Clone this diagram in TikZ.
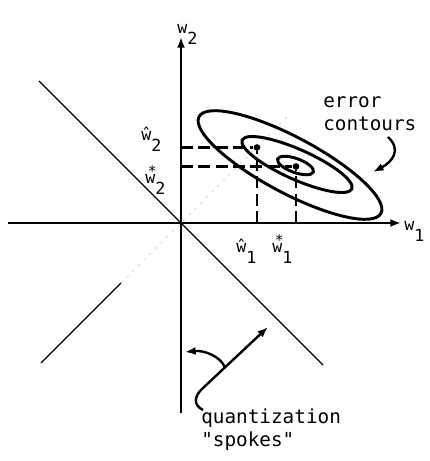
\documentclass[tikz,border=0pt]{standalone}
\usepackage{fontspec}
\newfontfamily\typew{DejaVu Sans Mono}
\usepackage{tikz}
\usetikzlibrary{arrows.meta}

\newcommand{\wsb}[2]{#1\lower8.5pt\hbox{#2}}
\newcommand{\wst}{\rlap{\kern2pt\raisebox{5pt}{\fontsize{11}{11}\selectfont *}}w}

\begin{document}
\begin{tikzpicture}[
    x=0.75pt, y=-0.75pt,
    axis/.style={line width=2.2pt, -{Latex[length=8pt,width=6pt]}},
    contour/.style={line width=2.2pt},
    spoke/.style={line width=0.9pt},
    faint/.style={line width=0.5pt, gray!45, dash pattern=on 2pt off 4pt},
    guide/.style={line width=2pt, dash pattern=on 9pt off 4pt},
    dot/.style={circle, fill, inner sep=0pt, minimum size=5pt},
    lab/.style={font=\typew\fontsize{12.5}{14}\selectfont, inner sep=0pt, anchor=base west},
    note/.style={font=\typew\fontsize{14.5}{17.25}\selectfont, inner sep=0pt,
                 align=left, anchor=north west},
    pointer/.style={line width=1.8pt, -{Latex[length=8pt,width=6pt]}}
]
\useasboundingbox (0,0) rectangle (429,461);
\coordinate (O) at (181,223);

% Quantization spokes
\draw[spoke] (O) ++(-142,-142) coordinate (s1a) -- (O) -- ++(142,142) coordinate (s1b);
\draw[spoke] (O) ++(-140,140) coordinate (s2a) -- ++(80,-80) coordinate (s2m);
\draw[faint] (s2m) -- (O) -- ++(108,-108) coordinate (s2b);

% Axes
\draw[axis] (8,223) -- (401,223);
\draw[axis] (181,413) -- (181,37);
\node[lab] (w1lab) at (404,230) {\wsb{w}{1}};
\node[lab] (w2lab) at (177,33) {\wsb{w}{2}};

% Error contours
\coordinate (c1) at (290,165);
\coordinate (c2) at (297,164.5);
\coordinate (c3) at (295.5,165.5);
\draw[contour, rotate around={-28:(c1)}] (c1) ellipse [x radius=103, y radius=28];
\draw[contour, rotate around={-24:(c2)}] (c2) ellipse [x radius=60, y radius=15];
\draw[contour, rotate around={-20:(c3)}] (c3) ellipse [x radius=19, y radius=7];

% Optimum and quantized weights
\node[dot] (what) at (257,147.5) {};
\node[dot] (wopt) at (296,166.5) {};
\draw[guide] (what -| O) -- (what);
\draw[guide] (what |- O) -- (what);
\draw[guide] (wopt -| O) -- (wopt);
\draw[guide] (wopt |- O) -- (wopt);
\node[lab] (wh2) at (141,140) {\wsb{ŵ}{2}};
\node[lab] (ws2) at (145,183) {\wsb{\wst}{2}};
\node[lab] (wh1) at (236,252) {\wsb{ŵ}{1}};
\node[lab] (ws1) at (272,252) {\wsb{\wst}{1}};

% Labels with pointers
\node[note] (err) at (323,96) {error\\contours};
\coordinate (errtail) at (388,137);
\draw[pointer] (errtail) .. controls (402,150) and (392,162) .. (373,172);

\node[note] (quant) at (201,409) {quantization\\"spokes"};
\coordinate (qtail) at (203,410);
\draw[pointer] (qtail) .. controls (193,405) and (194,396) .. (203,388) -- (268,327);
\coordinate (qarc) at (225,367.5);
\draw[pointer] (qarc) .. controls (221,357) and (205,350) .. (185,352);

\end{tikzpicture}
\end{document}
